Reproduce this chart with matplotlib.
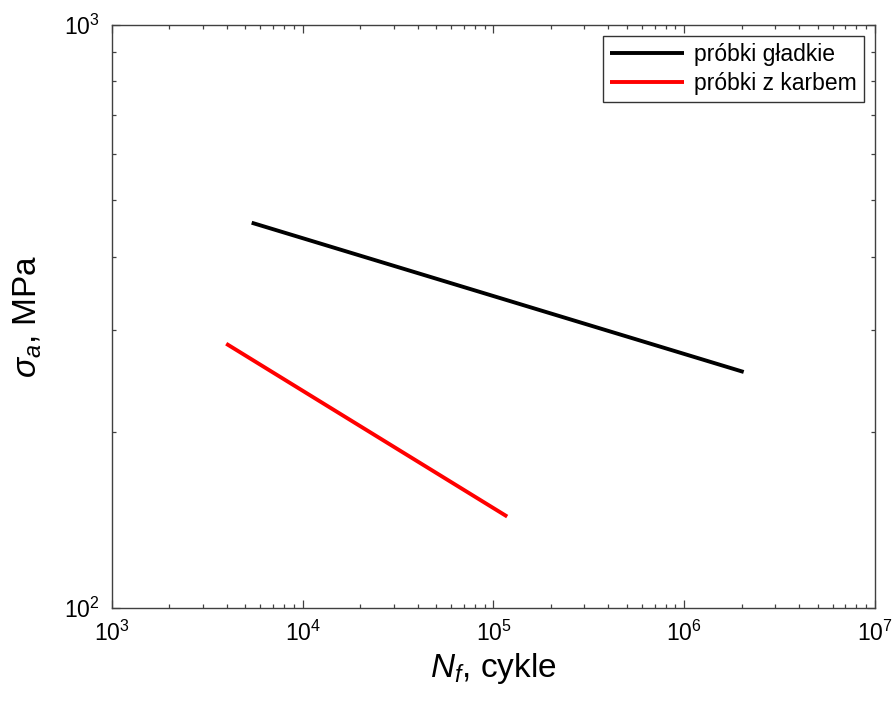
import matplotlib
matplotlib.use("Agg")
import matplotlib.pyplot as plt
from matplotlib.ticker import LogFormatterMathtext, LogLocator, NullFormatter

plt.rcParams['font.family'] = ['Liberation Sans', 'DejaVu Sans']
plt.rcParams['mathtext.fontset'] = 'custom'
plt.rcParams['mathtext.rm'] = 'Liberation Sans'
plt.rcParams['mathtext.it'] = 'Liberation Sans:italic'
plt.rcParams['mathtext.bf'] = 'Liberation Sans:bold'

# Data (Basquin lines, endpoints)
smooth_N = [5.4e3, 2.05e6]
smooth_S = [458, 254]
notch_N = [3.97e3, 1.18e5]
notch_S = [284, 143.5]
labels = ["próbki gładkie", "próbki z karbem"]

fig = plt.figure(figsize=(8.93, 7.02), dpi=100)
ax = fig.add_axes([0.1254, 0.1339, 0.9798 - 0.1254, 0.9644 - 0.1339])

ax.plot(smooth_N, smooth_S, color='black', lw=2.8, label=labels[0], solid_capstyle='butt')
ax.plot(notch_N, notch_S, color='#ff0000', lw=2.8, label=labels[1], solid_capstyle='butt')

ax.set_xscale('log')
ax.set_yscale('log')
ax.set_xlim(1e3, 1e7)
ax.set_ylim(1e2, 1e3)

ax.xaxis.set_major_locator(LogLocator(base=10, numticks=10))
ax.yaxis.set_major_locator(LogLocator(base=10, numticks=10))
ax.xaxis.set_major_formatter(LogFormatterMathtext())
ax.yaxis.set_major_formatter(LogFormatterMathtext())
ax.xaxis.set_minor_formatter(NullFormatter())
ax.yaxis.set_minor_formatter(NullFormatter())

for s in ax.spines.values():
    s.set_color('#404040')
    s.set_linewidth(1.0)

ax.tick_params(which='both', direction='in', top=True, right=True, colors='#404040',
               labelcolor='black', width=0.9)
ax.tick_params(which='major', length=5.5, labelsize=16.5, pad=9)
ax.tick_params(which='minor', length=3)

ax.set_xlabel(r'$N_f$, cykle', fontsize=24, labelpad=4)
ax.set_ylabel(r'$\sigma_a$, MPa', fontsize=24, labelpad=14)

leg = ax.legend(loc='upper right', fontsize=16.5, frameon=True, fancybox=False,
                edgecolor='black', handlelength=3.2, borderaxespad=0.5,
                borderpad=0.3, labelspacing=0.25, handletextpad=0.45)
leg.get_frame().set_linewidth(1.0)

fig.savefig('out.png', dpi=100)
